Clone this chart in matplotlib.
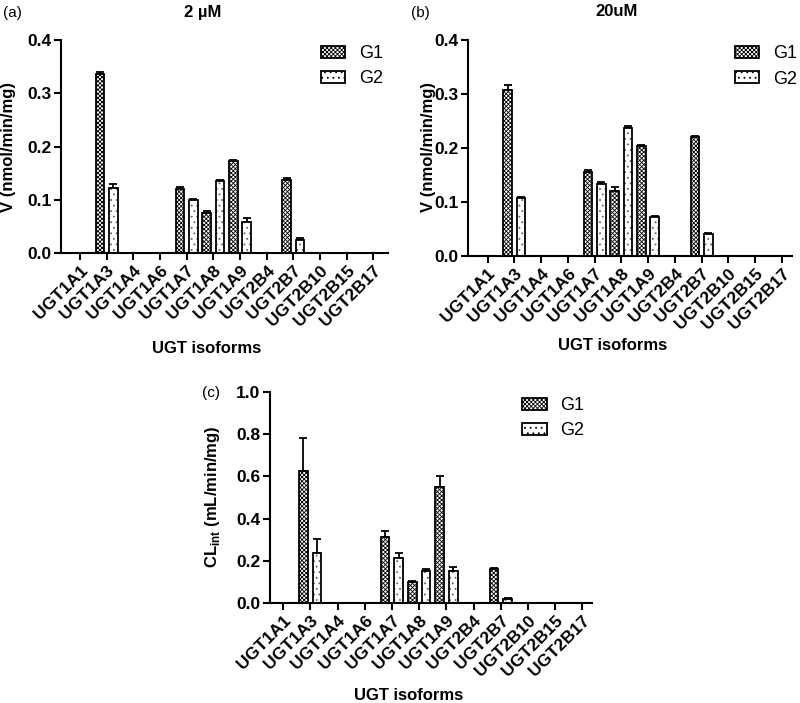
import numpy as np
import matplotlib
matplotlib.use("Agg")
import matplotlib.pyplot as plt
from matplotlib.patches import Patch
from matplotlib.transforms import ScaledTranslation

plt.rcParams["font.family"] = ["Liberation Sans", "DejaVu Sans"]
plt.rcParams["mathtext.fontset"] = "custom"
plt.rcParams["mathtext.rm"] = "Liberation Sans"
plt.rcParams["mathtext.bf"] = "Liberation Sans:bold"
plt.rcParams["hatch.linewidth"] = 0.6

nan = np.nan

isoforms = ["UGT1A1", "UGT1A3", "UGT1A4", "UGT1A6", "UGT1A7", "UGT1A8",
            "UGT1A9", "UGT2B4", "UGT2B7", "UGT2B10", "UGT2B15", "UGT2B17"]

# (a) 2 uM, V (nmol/min/mg)
v2_g1 = [nan, 0.337, nan, nan, 0.120, 0.075, 0.172, nan, 0.138, nan, nan, nan]
v2_g1_err = [0, 0.003, 0, 0, 0.004, 0.003, 0.002, 0, 0.003, 0, 0, 0]
v2_g2 = [nan, 0.123, nan, nan, 0.099, 0.135, 0.058, nan, 0.024, nan, nan, nan]
v2_g2_err = [0, 0.006, 0, 0, 0.002, 0.003, 0.008, 0, 0.004, 0, 0, 0]

# (b) 20 uM, V (nmol/min/mg)
v20_g1 = [nan, 0.307, nan, nan, 0.155, 0.120, 0.203, nan, 0.221, nan, nan, nan]
v20_g1_err = [0, 0.009, 0, 0, 0.005, 0.007, 0.002, 0, 0.001, 0, 0, 0]
v20_g2 = [nan, 0.107, nan, nan, 0.134, 0.237, 0.073, nan, 0.041, nan, nan, nan]
v20_g2_err = [0, 0.003, 0, 0, 0.004, 0.003, 0.002, 0, 0.002, 0, 0, 0]

# (c) CLint (mL/min/mg)
cl_g1 = [nan, 0.627, nan, nan, 0.312, 0.102, 0.548, nan, 0.160, nan, nan, nan]
cl_g1_err = [0, 0.153, 0, 0, 0.031, 0.004, 0.054, 0, 0.005, 0, 0, 0]
cl_g2 = [nan, 0.236, nan, nan, 0.214, 0.151, 0.153, nan, 0.021, nan, nan, nan]
cl_g2_err = [0, 0.066, 0, 0, 0.024, 0.010, 0.018, 0, 0.004, 0, 0, 0]

G1_HATCH = "xxxxxxxx"
G2_HATCH = "..."


def draw_panel(ax, g1, g1_err, g2, g2_err, ymax, yticks, xlim, legend_xy):
    x = np.arange(len(isoforms))
    series = [(g1, g1_err, -0.25, G1_HATCH, "black"),
              (g2, g2_err, 0.25, G2_HATCH, "0.4")]
    for vals, errs, off, hatch, hcol in series:
        vals = np.array(vals, dtype=float)
        errs = np.array(errs, dtype=float)
        ax.bar(x + off, vals, width=0.32, facecolor="white", edgecolor=hcol,
               hatch=hatch, linewidth=0, zorder=2)
        ax.bar(x + off, vals, width=0.32, fill=False, edgecolor="black",
               linewidth=1.3, zorder=3)
        ax.errorbar(x + off, vals, yerr=[np.zeros(len(x)), errs], fmt="none",
                    ecolor="black", elinewidth=1.3, capsize=3, capthick=1.3,
                    zorder=1)

    ax.set_xlim(*xlim)
    ax.set_ylim(0, ymax)
    ax.set_xticks(x)
    ax.set_xticklabels(isoforms, rotation=45, ha="right", va="top",
                       rotation_mode="anchor", fontsize=12.5, fontweight="bold")
    for lab in ax.get_xticklabels():
        lab.set_transform(lab.get_transform()
                          + ScaledTranslation(4 / 72, 0, ax.figure.dpi_scale_trans))
    ax.set_yticks(yticks)
    ax.set_yticklabels([f"{t:.1f}" for t in yticks], fontsize=12.5,
                       fontweight="bold")
    for side in ("top", "right"):
        ax.spines[side].set_visible(False)
    for side in ("left", "bottom"):
        ax.spines[side].set_linewidth(1.5)
    ax.tick_params(direction="out", length=5, width=1.5, pad=2)

    handles = [Patch(facecolor="white", edgecolor="black", hatch=G1_HATCH, linewidth=1.3),
               Patch(facecolor="white", edgecolor="black", hatch=G2_HATCH, linewidth=1.3)]
    ax.legend(handles, ["G1", "G2"], loc="upper left", bbox_to_anchor=legend_xy,
              frameon=False, fontsize=13, handlelength=1.35, handleheight=0.6,
              handletextpad=0.75, labelspacing=0.45, borderpad=0, borderaxespad=0)


fig = plt.figure(figsize=(8, 7.03), dpi=100)
H = 703.0


def ftxt(x, y, s, **kw):
    fig.text(x / 800.0, 1 - y / H, s, ha="center", va="center", **kw)


ax_a = fig.add_axes([0.07625, 0.6401, 0.40875, 0.303])
draw_panel(ax_a, v2_g1, v2_g1_err, v2_g2, v2_g2_err, 0.4,
           [0.0, 0.1, 0.2, 0.3, 0.4], (-0.71, 11.55), (0.795, 0.975))

ax_b = fig.add_axes([0.585, 0.6358, 0.405, 0.3073])
draw_panel(ax_b, v20_g1, v20_g1_err, v20_g2, v20_g2_err, 0.4,
           [0.0, 0.1, 0.2, 0.3, 0.4], (-0.73, 11.38), (0.824, 0.975))

ax_c = fig.add_axes([0.3375, 0.1422, 0.4025, 0.3002])
draw_panel(ax_c, cl_g1, cl_g1_err, cl_g2, cl_g2_err, 1.0,
           [0.0, 0.2, 0.4, 0.6, 0.8, 1.0], (-0.48, 11.35), (0.783, 0.975))

ftxt(203, 12, "2 µM", fontsize=12, fontweight="bold")
ftxt(617, 12, "20uM", fontsize=12, fontweight="bold")
ftxt(12, 13, "(a)", fontsize=11)
ftxt(420, 13, "(b)", fontsize=11)
ftxt(211, 393, "(c)", fontsize=11)

ftxt(9, 147, "V (nmol/min/mg)", rotation=90, fontsize=12, fontweight="bold")
ftxt(428, 147, "V (nmol/min/mg)", rotation=90, fontsize=12, fontweight="bold")
ftxt(212, 497, r"CL$_{\mathbf{int}}$ (mL/min/mg)", rotation=90, fontsize=12,
     fontweight="bold")

ftxt(207, 348, "UGT isoforms", fontsize=12, fontweight="bold")
ftxt(613, 346, "UGT isoforms", fontsize=12, fontweight="bold")
ftxt(409, 695, "UGT isoforms", fontsize=12, fontweight="bold")

fig.savefig("out.png", dpi=100)
